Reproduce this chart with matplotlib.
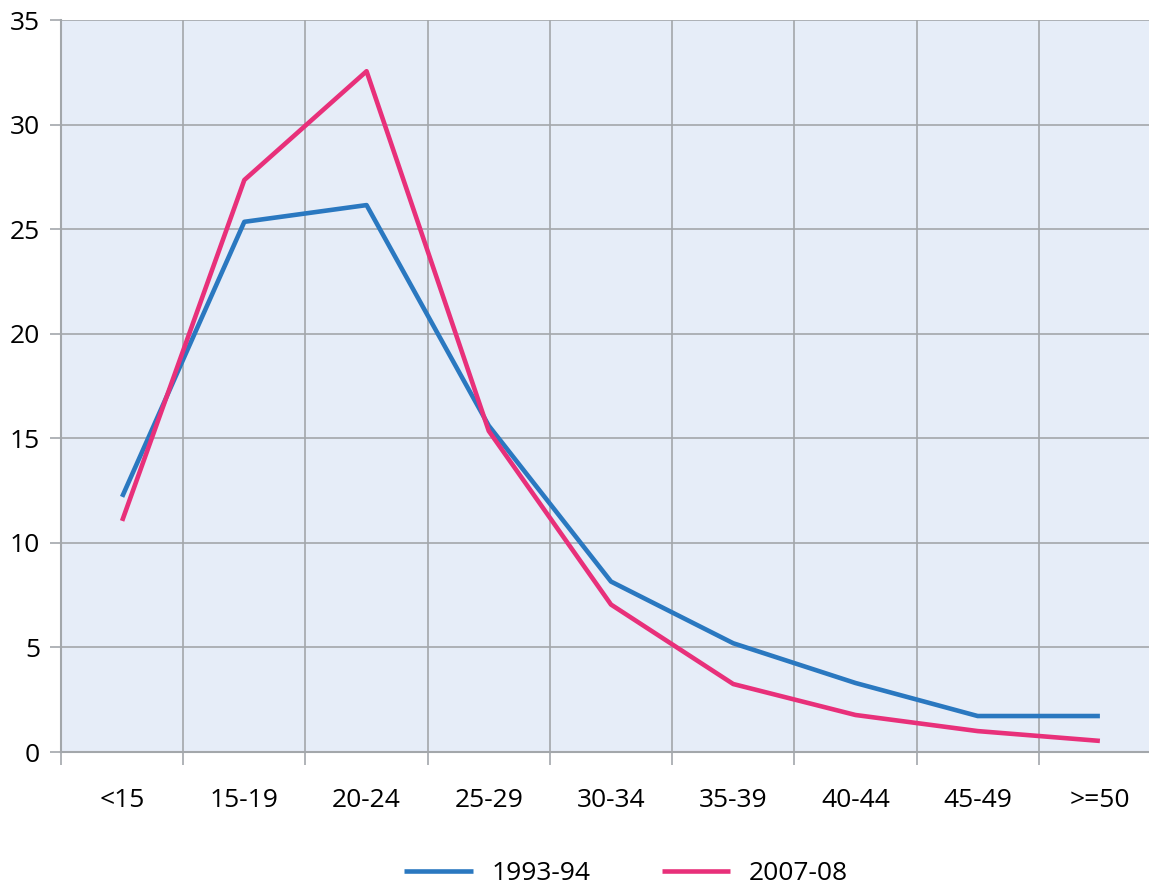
import numpy as np
import matplotlib.pyplot as plt
from matplotlib.ticker import FixedLocator

# age groups and shares (%)
age_groups = ['<15', '15-19', '20-24', '25-29', '30-34', '35-39', '40-44', '45-49', '>=50']
share_1993 = [12.2, 25.35, 26.15, 15.6, 8.15, 5.2, 3.3, 1.72, 1.72]
share_2007 = [11.05, 27.35, 32.55, 15.35, 7.05, 3.25, 1.77, 1.0, 0.53]

plt.rcParams['font.family'] = ['Open Sans', 'DejaVu Sans']

fig = plt.figure(figsize=(11.49, 8.86), dpi=100)
# the plot area runs past the right edge of the image, as in the original
ax = fig.add_axes([61/1149, 134/886, 1100/1149, 732/886])
ax.set_facecolor('#e6edf8')

x = np.arange(len(age_groups))
ax.plot(x, share_1993, color='#2a78c0', lw=3.3, label='1993-94', solid_capstyle='butt', zorder=3)
ax.plot(x, share_2007, color='#e8307a', lw=3.3, label='2007-08', solid_capstyle='butt', zorder=3)

ax.set_xlim(-0.5, len(age_groups) - 0.5)
ax.set_ylim(0, 35)
ax.set_yticks(np.arange(0, 36, 5))
ax.set_xticks(x)
ax.set_xticklabels(age_groups)
ax.xaxis.set_minor_locator(FixedLocator(np.arange(-0.5, len(age_groups), 1.0)))

grid_col = '#a3a7ab'
ax.grid(True, axis='y', color=grid_col, lw=1.2, zorder=1)
ax.grid(True, axis='x', which='minor', color=grid_col, lw=1.2, zorder=1)
ax.set_axisbelow(True)

for side in ['top', 'right']:
    ax.spines[side].set_visible(False)
for side in ['left', 'bottom']:
    ax.spines[side].set_color(grid_col)
    ax.spines[side].set_linewidth(1.5)

ax.tick_params(axis='x', which='major', length=0, pad=26, labelsize=19)
ax.tick_params(axis='x', which='minor', length=9.4, color=grid_col, width=1.2)
ax.tick_params(axis='y', length=8, color=grid_col, width=1.2, pad=7, labelsize=19)

fig.legend(loc='center', bbox_to_anchor=(626/1149, 12/886), ncol=2, frameon=False,
           fontsize=19, handlelength=2.6, handletextpad=0.7, columnspacing=2.7,
           borderpad=0)

fig.savefig('out.png', dpi=100)
